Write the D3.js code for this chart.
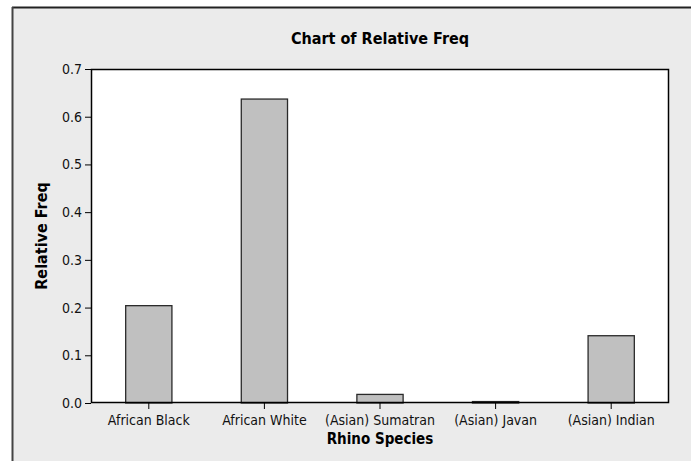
<!DOCTYPE html>
<html><head><meta charset="utf-8">
<script src="https://cdn.jsdelivr.net/npm/d3@7"></script>
<style>body{margin:0;background:#fff}svg{display:block}</style>
</head><body>
<script>
const categories = ["African Black","African White","(Asian) Sumatran","(Asian) Javan","(Asian) Indian"];
const relFreq = [0.204, 0.637, 0.018, 0.003, 0.141];
const yTicks = [0.0,0.1,0.2,0.3,0.4,0.5,0.6,0.7];
const title = "Chart of Relative Freq";
const xTitle = "Rhino Species";
const yTitle = "Relative Freq";

const W=691,H=461;
const svg=d3.select("body").append("svg").attr("width",W).attr("height",H);
const font="DejaVu Sans Condensed";
svg.append("rect").attr("x",12).attr("y",7).attr("width",W-12).attr("height",H-7).attr("fill","#ebebeb");
svg.append("line").attr("x1",12).attr("x2",W).attr("y1",7.5).attr("y2",7.5).attr("stroke","#222").attr("stroke-width",2);
svg.append("line").attr("x1",12.5).attr("x2",12.5).attr("y1",7).attr("y2",H).attr("stroke","#444").attr("stroke-width",2);

const L=91,R=669,T=69,B=403;
const x=d3.scaleBand().domain(categories).range([L,R]).paddingInner(0.6).paddingOuter(0.3);
const y=d3.scaleLinear().domain([0,0.7]).range([B,T]);

svg.append("rect").attr("x",L).attr("y",T).attr("width",R-L).attr("height",B-T).attr("fill","#fff");

svg.selectAll("rect.bar").data(categories).join("rect").attr("class","bar")
  .attr("x",d=>x(d)).attr("width",x.bandwidth())
  .attr("y",(d,i)=>y(relFreq[i])).attr("height",(d,i)=>y(0)-y(relFreq[i]))
  .attr("fill","#c0c0c0").attr("stroke","#2a2a2a").attr("stroke-width",1.3);

svg.append("rect").attr("x",L+0.5).attr("y",T+0.5).attr("width",R-L-1).attr("height",B-T-1)
  .attr("fill","none").attr("stroke","#000").attr("stroke-width",1.5);

const ya=svg.append("g").attr("transform",`translate(${L},0)`)
  .call(d3.axisLeft(y).tickValues(yTicks).tickFormat(d3.format(".1f")).tickSize(6).tickPadding(3));
const xa=svg.append("g").attr("transform",`translate(0,${B})`)
  .call(d3.axisBottom(x).tickSize(6).tickPadding(6));
[ya,xa].forEach(g=>{
  g.select(".domain").remove();
  g.selectAll(".tick line").attr("stroke","#000");
  g.selectAll("text").attr("font-family",font).attr("font-size","14px").attr("fill","#111");
});

svg.append("text").attr("x",(L+R)/2).attr("y",44).attr("text-anchor","middle")
  .attr("font-family",font).attr("font-weight","bold").attr("font-size","16px").text(title);
svg.append("text").attr("x",(L+R)/2).attr("y",444).attr("text-anchor","middle")
  .attr("font-family",font).attr("font-weight","bold").attr("font-size","15px").text(xTitle);
svg.append("text").attr("transform",`translate(47,${(T+B)/2}) rotate(-90)`).attr("text-anchor","middle")
  .attr("font-family",font).attr("font-weight","bold").attr("font-size","16px").text(yTitle);
</script>
</body></html>
